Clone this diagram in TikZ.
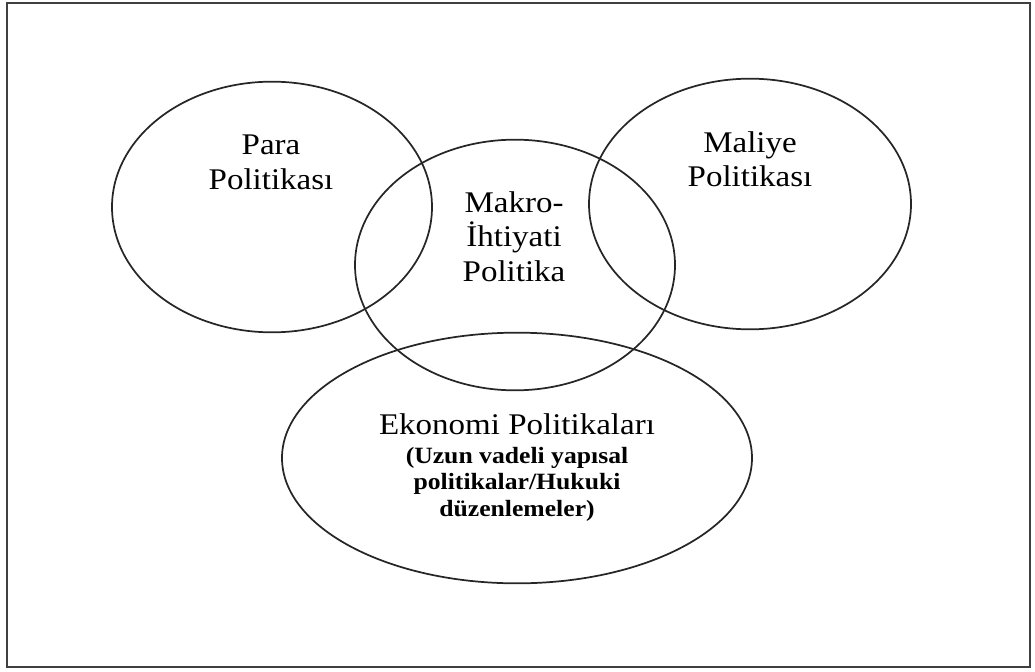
\documentclass[tikz,border=0pt]{standalone}
\usepackage{fontspec}
\setmainfont{Liberation Serif}[FakeStretch=1.1]
\usetikzlibrary{shapes.geometric}
\tikzset{
  venn/.style={draw=black!85, line width=1.3pt, ellipse, inner sep=0pt},
  bigtext/.style={anchor=base, inner sep=0pt, font=\fontsize{22.5pt}{26pt}\selectfont},
  smalltext/.style={anchor=base, inner sep=0pt, font=\fontsize{17.5pt}{20pt}\selectfont\bfseries},
  frame/.style={draw=black!75, line width=1.3pt}
}
\begin{document}
\begin{tikzpicture}[x=0.75pt, y=-0.75pt]
\useasboundingbox (0,0) rectangle (1035,671);
\draw[frame] (7,3) rectangle (1030,667);
% ellipses
\node[venn, minimum width=240pt, minimum height=188pt] (para) at (272,207) {};
\node[venn, minimum width=240pt, minimum height=188pt] (makro) at (515,265) {};
\node[venn, minimum width=241.5pt, minimum height=188pt] (maliye) at (750,204) {};
\node[venn, minimum width=352.5pt, minimum height=188pt] (ekonomi) at (517,458) {};
% labels
\node[bigtext] (para1) at (271,154) {Para};
\node[bigtext] (para2) at (271,189) {Politikası};
\node[bigtext] (mal1) at (750,152) {Maliye};
\node[bigtext] (mal2) at (750,186) {Politikası};
\node[bigtext] (mak1) at (514,212) {Makro-};
\node[bigtext] (mak2) at (514,246) {İhtiyati};
\node[bigtext] (mak3) at (514,281) {Politika};
\node[bigtext] (eko1) at (517,434) {Ekonomi Politikaları};
\node[smalltext] (eko2) at (517,463) {(Uzun vadeli yapısal};
\node[smalltext] (eko3) at (517,489) {politikalar/Hukuki};
\node[smalltext] (eko4) at (517,516) {düzenlemeler)};
\end{tikzpicture}
\end{document}
